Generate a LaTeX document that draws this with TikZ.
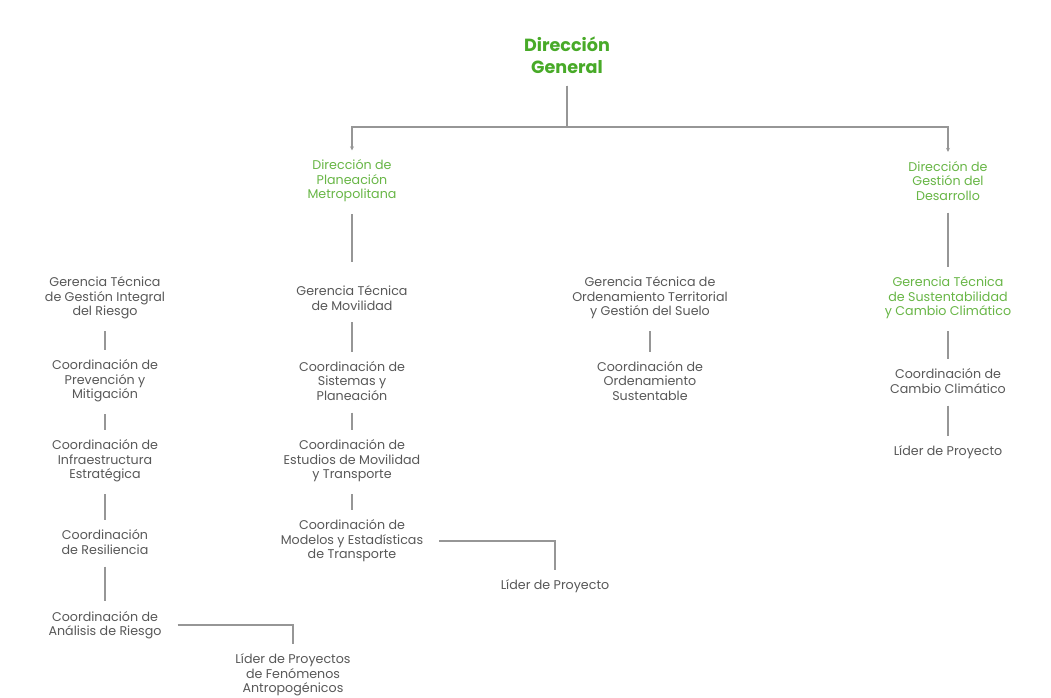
\documentclass[tikz,border=0pt]{standalone}
\usepackage{fontspec}
\setmainfont{Poppins}
\usepackage{tikz}
\usetikzlibrary{arrows.meta,positioning,calc}

\definecolor{verde}{RGB}{72,170,40}
\definecolor{verdeclaro}{RGB}{104,182,70}
\definecolor{texto}{RGB}{88,88,88}
\definecolor{linea}{RGB}{150,150,150}

\tikzset{
  caja/.style={align=center,fill=white,inner xsep=10pt,inner ysep=7pt,text=texto,
    font=\fontsize{9.5}{10.8}\selectfont},
  cajaverde/.style={caja,text=verdeclaro},
  titulo/.style={caja,text=verde,font=\fontsize{13.2}{16.5}\selectfont\bfseries,inner xsep=16pt},
  con/.style={draw=linea,line width=0.8pt,shorten <=2pt},
}

\begin{document}
\begin{tikzpicture}[x=0.75pt,y=-0.75pt,>={Stealth[length=3pt,width=3pt]}]
\useasboundingbox (0,0) rectangle (1051,698);
% nivel 1
\node[titulo] (dg) at (567,55) {Dirección\\General};
% nivel 2
\node[cajaverde] (dpm) at (352,181) {Dirección de\\Planeación\\Metropolitana};
\node[cajaverde] (dgd) at (948,181) {Dirección de\\Gestión del\\Desarrollo};
\draw[con,->] (dg.south) -- (567,127) -| (dpm.north);
\draw[con,->] (dg.south) -- (567,127) -| (dgd.north);
% gerencias
\coordinate (dpmfin) at (352,262);
\draw[con] (dpm.south) -- (dpmfin);
\node[caja] (gir) at (105,298) {Gerencia Técnica\\de Gestión Integral\\del Riesgo};
\node[caja] (gmov) at (352,298) {Gerencia Técnica\\de Movilidad};
\node[caja] (gord) at (650,298) {Gerencia Técnica de\\Ordenamiento Territorial\\y Gestión del Suelo};
\node[cajaverde] (gsus) at (948,298) {Gerencia Técnica\\de Sustentabilidad\\y Cambio Climático};
\draw[con] (dgd.south) -- (gsus.north);
% columna riesgo
\node[caja] (cpm) at (105,381) {Coordinación de\\Prevención y\\Mitigación};
\node[caja] (cie) at (105,461) {Coordinación de\\Infraestructura\\Estratégica};
\node[caja] (cres) at (105,542) {Coordinación\\de Resiliencia};
\node[caja] (car) at (105,625) {Coordinación de\\Análisis de Riesgo};
\node[caja] (lfa) at (293,675) {Líder de Proyectos\\de Fenómenos\\Antropogénicos};
\draw[con] (gir.south) -- (cpm.north);
\draw[con] (cpm.south) -- (cie.north);
\draw[con] (cie.south) -- (cres.north);
\draw[con] (cres.south) -- (car.north);
\draw[con] (car.east) -| (lfa.north);
% columna movilidad
\node[caja] (csp) at (352,381) {Coordinación de\\Sistemas y\\Planeación};
\node[caja] (cemt) at (352,461) {Coordinación de\\Estudios de Movilidad\\y Transporte};
\node[caja] (cmet) at (352,541) {Coordinación de\\Modelos y Estadísticas\\de Transporte};
\node[caja] (lpm) at (555,586) {Líder de Proyecto};
\draw[con] (gmov.south) -- (csp.north);
\draw[con] (csp.south) -- (cemt.north);
\draw[con] (cemt.south) -- (cmet.north);
\draw[con] (cmet.east) -| (lpm.north);
% columna ordenamiento
\node[caja] (cos) at (650,381) {Coordinación de\\Ordenamiento\\Sustentable};
\draw[con] (gord.south) -- (cos.north);
% columna sustentabilidad
\node[caja] (ccc) at (948,381) {Coordinación de\\Cambio Climático};
\node[caja] (lps) at (948,452) {Líder de Proyecto};
\draw[con] (gsus.south) -- (ccc.north);
\draw[con] (ccc.south) -- (lps.north);
\end{tikzpicture}
\end{document}
